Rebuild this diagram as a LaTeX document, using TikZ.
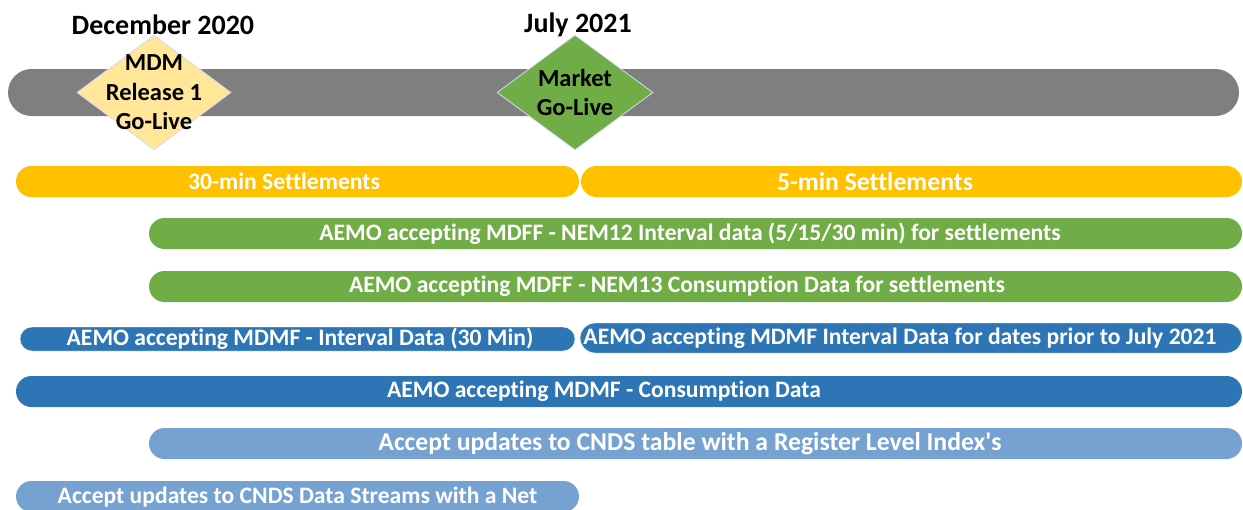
\documentclass[tikz,border=0pt]{standalone}
\usepackage{fontspec}
\setmainfont{Carlito}[Ligatures={TeX,NoCommon}]
\usepackage{tikz}
\usetikzlibrary{shapes.geometric}
\usetikzlibrary{positioning}

\definecolor{tlgray}{HTML}{7F7F7F}
\definecolor{tlorange}{HTML}{FFC000}
\definecolor{tlgreen}{HTML}{70AD47}
\definecolor{tlblue}{HTML}{2E75B6}
\definecolor{tllight}{HTML}{76A2D1}
\definecolor{tlpale}{HTML}{FFE699}

\begin{document}
\begin{tikzpicture}[x=1pt,y=-1pt,
		bar/.style={rectangle, inner sep=0pt, rounded corners=15.5pt, minimum height=31pt},
		bartext/.style={text=white, font=\bfseries\fontsize{23.6}{26}\selectfont, inner sep=0pt},
		bigtext/.style={bartext, font=\bfseries\fontsize{25.7}{28}\selectfont},
		milestone/.style={diamond, inner sep=0pt, minimum width=154pt, minimum height=115pt, draw=white!85!blue, line width=0.8pt},
		mstext/.style={align=center, font=\bfseries\fontsize{24.5}{29.5}\selectfont, inner sep=0pt},
		datetext/.style={font=\bfseries\fontsize{28}{32}\selectfont, inner sep=0pt}]
		\useasboundingbox (0,0) rectangle (1243,509);
		\clip (0,0) rectangle (1243,509);
		% timeline
		\node[bar, fill=tlgray, rounded corners=23.5pt, minimum width=1231pt, minimum height=47pt] (line) at (623.5,92.5) {};
		\node[milestone, fill=tlpale] (mdm) at (154,92.5) {};
		\node[mstext] (mdmt) at (mdm) {MDM\\Release 1\\Go-Live};
		\node[milestone, fill=tlgreen, minimum width=156pt] (mkt) at (575,92.5) {};
		\node[mstext] (mktt) at (mkt) {Market\\Go-Live};
		\node[datetext] (dec) at (163,25) {December 2020};
		\node[datetext] (jul) at (578,25) {July 2021};
		% settlements
		\node[bar, fill=tlorange, minimum width=563pt] (s30) at (297.5,181.5) {};
		\node[bartext] (s30t) at (284,181.5) {30-min Settlements};
		\node[bar, fill=tlorange, minimum width=661pt] (s5) at (911.5,181.5) {};
		\node[bigtext] (s5t) at (875,181.5) {5-min Settlements};
		% MDFF
		\node[bar, fill=tlgreen, minimum width=1093pt] (nem12) at (695.5,233.5) {};
		\node[bartext] (nem12t) at (690,233.5) {AEMO accepting MDFF - NEM12 Interval data (5/15/30 min) for settlements};
		\node[bar, fill=tlgreen, minimum width=1093pt] (nem13) at (695.5,286.5) {};
		\node[bartext] (nem13t) at (677,286.5) {AEMO accepting MDFF - NEM13 Consumption Data for settlements};
		% MDMF
		\node[bar, fill=tlblue, draw=white, rounded corners=12pt, minimum width=555pt, minimum height=24pt] (int30) at (297.5,339) {};
		\node[bartext] (int30t) at (300,339) {AEMO accepting MDMF - Interval Data (30 Min)};
		\node[bar, fill=tlblue, draw=white, minimum width=662pt, minimum height=30pt] (prior) at (911,338) {};
		\node[bartext] (priort) at (900,338) {AEMO accepting MDMF Interval Data for dates prior to July 2021};
		\node[bar, fill=tlblue, minimum width=1226pt] (cons) at (629,391.5) {};
		\node[bartext] (const) at (604,391.5) {AEMO accepting MDMF - Consumption Data};
		% CNDS
		\node[bar, fill=tllight, minimum width=1093pt] (reg) at (695.5,443.5) {};
		\node[bigtext] (regt) at (690,443.5) {Accept updates to CNDS table with a Register Level Index\textquotesingle s};
		\node[bar, fill=tllight, minimum width=563pt] (net) at (297.5,496.5) {};
		\node[bartext] (nett) at (297.5,497) {Accept updates to CNDS Data Streams with a Net};
	\end{tikzpicture}
\end{document}
